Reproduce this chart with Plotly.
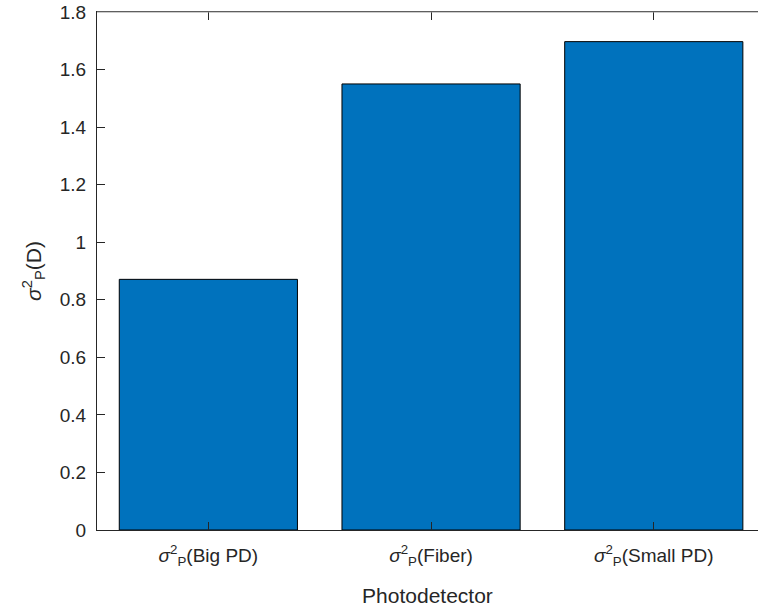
import plotly.graph_objects as go

categories = ["Big PD", "Fiber", "Small PD"]
values = [0.871, 1.550, 1.697]
y_ticks = [0, 0.2, 0.4, 0.6, 0.8, 1.0, 1.2, 1.4, 1.6, 1.8]
y_tick_labels = ["0", "0.2", "0.4", "0.6", "0.8", "1", "1.2", "1.4", "1.6", "1.8"]

x_labels = ["<i>σ</i><sup>2</sup><sub>P</sub>(" + c + ")" for c in categories]
x_pos = list(range(len(categories)))

font_family = "Liberation Sans, Arial, sans-serif"
axis_color = "#262626"

fig = go.Figure(
    go.Bar(
        x=x_pos,
        y=values,
        width=0.8,
        marker=dict(color="#0072BD", line=dict(color="#000000", width=1)),
    )
)

fig.update_layout(
    width=758,
    height=613,
    margin=dict(l=97, r=0, t=12, b=83),
    paper_bgcolor="white",
    plot_bgcolor="white",
    showlegend=False,
    font=dict(family=font_family, size=19, color=axis_color),
)

fig.update_xaxes(
    range=[-0.5, 2.468],
    tickmode="array",
    tickvals=x_pos,
    ticktext=x_labels,
    ticks="inside",
    ticklen=8,
    tickwidth=1,
    tickcolor=axis_color,
    showline=True,
    linecolor=axis_color,
    linewidth=1,
    mirror="ticks",
    showgrid=False,
    zeroline=False,
    tickfont=dict(size=19, color=axis_color),
    ticklabelstandoff=8,
    title=dict(text="Photodetector", font=dict(size=21, color=axis_color), standoff=20),
)

fig.update_yaxes(
    range=[0, 1.8],
    tickmode="array",
    tickvals=y_ticks,
    ticktext=y_tick_labels,
    ticks="inside",
    ticklen=8,
    tickwidth=1,
    tickcolor=axis_color,
    showline=True,
    linecolor=axis_color,
    linewidth=1,
    showgrid=False,
    zeroline=False,
    tickfont=dict(size=19, color=axis_color),
    ticklabelstandoff=6,
    title=dict(text="<i>σ</i><sup>2</sup><sub>P</sub>(D)", font=dict(size=21, color=axis_color), standoff=12),
)

# thin top border of the axes box
fig.add_shape(
    type="line", xref="paper", yref="paper", x0=0, x1=1, y0=1, y1=1,
    line=dict(color="#999999", width=1), layer="above",
)

fig.write_html("out.html")
